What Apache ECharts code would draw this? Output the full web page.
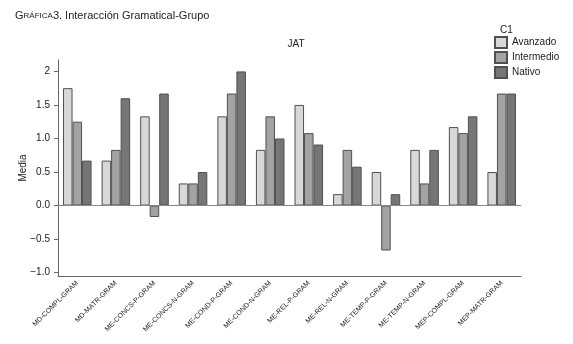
<!DOCTYPE html>
<html><head><meta charset="utf-8">
<script src="https://cdn.jsdelivr.net/npm/echarts@6/dist/echarts.min.js"></script>
<style>html,body{margin:0;padding:0;background:#fff}#c{width:573px;height:344px}</style>
</head><body><div id="c"></div>
<script>
const categories = ['MD-COMPL-GRAM','MD-MATR-GRAM','ME-CONCS-P-GRAM','ME-CONCS-N-GRAM','ME-COND-P-GRAM','ME-COND-N-GRAM','ME-REL-P-GRAM','ME-REL-N-GRAM','ME-TEMP-P-GRAM','ME-TEMP-N-GRAM','MEP-COMPL-GRAM','MEP-MATR-GRAM'];
const avanzado   = [1.75, 0.67, 1.33, 0.33, 1.33, 0.83, 1.50, 0.17, 0.50, 0.83, 1.17, 0.50];
const intermedio = [1.25, 0.83, -0.17, 0.33, 1.67, 1.33, 1.08, 0.83, -0.67, 0.33, 1.08, 1.67];
const nativo     = [0.67, 1.60, 1.67, 0.50, 2.00, 1.00, 0.91, 0.58, 0.17, 0.83, 1.33, 1.67];
const yTicks = [-1, -0.5, 0, 0.5, 1, 1.5, 2];
const seriesNames = ['Avanzado','Intermedio','Nativo'];

const FONT = "'Liberation Sans Narrow','Liberation Sans',Arial,sans-serif";
const colors = ['#d8d8d8','#a3a3a3','#767676'];
const chart = echarts.init(document.getElementById('c'), null, {renderer:'canvas'});
const data = [avanzado, intermedio, nativo];
const series = seriesNames.map((n,i)=>({
  name:n, type:'bar', data:data[i], barGap:'0%', barCategoryGap:'26%',
  itemStyle:{color:colors[i], borderColor:'#505050', borderWidth:1},
  silent:true
}));
series[0].markLine = {silent:true, symbol:'none', label:{show:false},
  lineStyle:{color:'#888', width:1, type:'solid'}, data:[{yAxis:0}]};
const rs = (s)=>({fontSize:s,fontFamily:FONT,color:'#222',fontWeight:'normal'});
chart.setOption({
  animation:false,
  title:[{text:'{a|G}{b|RÁFICA}{c|3. Interacción Gramatical-Grupo}', left:15, top:10, padding:0,
    textStyle:{fontWeight:'normal', rich:{a:rs(11),b:rs(8),c:rs(11)}}},
    {text:'JAT', left:296, top:39, padding:0, textAlign:'center', textStyle:{fontSize:10,fontWeight:'normal',fontFamily:FONT,color:'#222'}},
    {text:'C1', left:500, top:25, padding:0, textStyle:{fontSize:10,fontWeight:'normal',fontFamily:FONT,color:'#222'}}],
  legend:{orient:'vertical', left:494, top:36, padding:0, icon:'rect', itemWidth:12, itemHeight:11, itemGap:2,
    textStyle:{fontSize:10, fontFamily:FONT, color:'#222', padding:[0,0,0,0]},
    data:seriesNames},
  grid:{left:58, right:52, top:60, bottom:68},
  xAxis:{type:'category', data:categories,
    axisLine:{onZero:false, lineStyle:{color:'#666'}},
    axisTick:{alignWithLabel:true, length:4, lineStyle:{color:'#666'}},
    axisLabel:{rotate:45, fontSize:7, fontFamily:FONT, color:'#222', margin:6, interval:0}},
  yAxis:{type:'value', min:-1.05, max:2.17, name:'Media', nameLocation:'middle', nameGap:30,
    nameMoveOverlap:false,
    nameTextStyle:{fontSize:10,fontFamily:FONT,color:'#222'},
    splitLine:{show:false},
    axisLine:{show:true, lineStyle:{color:'#666'}},
    axisTick:{show:true, length:4, customValues:yTicks, lineStyle:{color:'#666'}},
    axisLabel:{customValues:yTicks, fontSize:10, fontFamily:FONT, color:'#222',
      formatter:v=> v===2 ? '2' : (v<0 ? '\u2212'+Math.abs(v).toFixed(1) : v.toFixed(1))}},
  series
});
</script></body></html>
